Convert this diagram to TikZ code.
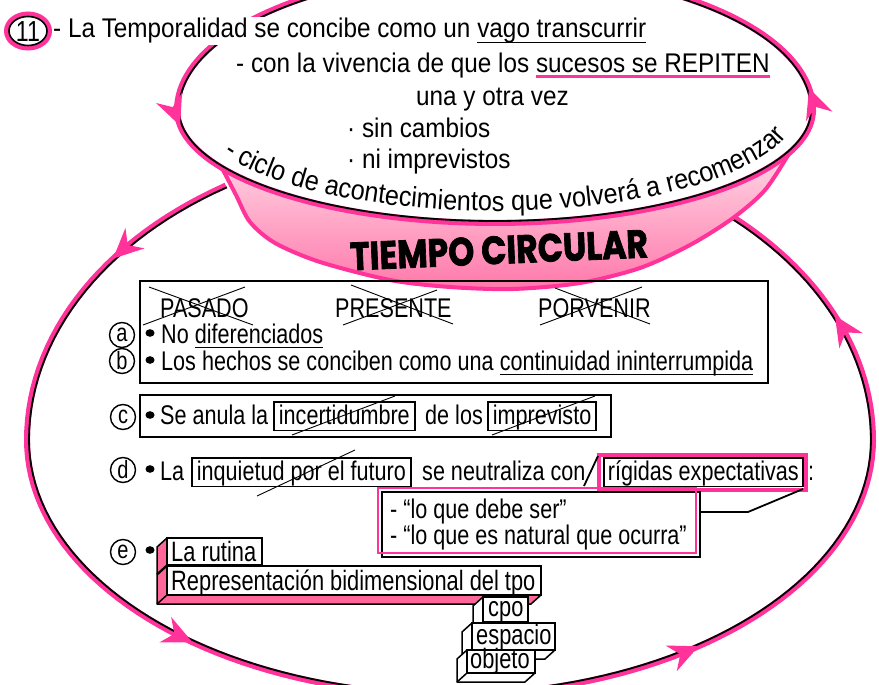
\documentclass[tikz,border=0pt]{standalone}
\usepackage{fontspec}
\usepackage{graphicx}
\setmainfont{Liberation Sans}
\newfontfamily\topfont{Liberation Sans}[FakeStretch=0.9]
\newfontfamily\boxfont{Liberation Sans}[FakeStretch=0.8]
\newfontfamily\tallfont{Liberation Sans}[FakeStretch=0.78]
\newfontfamily\heavyfont{Poppins}[BoldFeatures={FakeBold=2}]
\usetikzlibrary{decorations.text}
\definecolor{hp}{RGB}{255,51,153}
\definecolor{facep}{RGB}{255,102,153}
\definecolor{ribtop}{RGB}{255,215,230}
\definecolor{ribbot}{RGB}{255,120,170}

\newcommand\ulk[1]{\setbox0\hbox{#1}\rlap{\rule[-5.2pt]{\wd0}{1.4pt}}\box0}
\newcommand\ulp[1]{\setbox0\hbox{#1}\rlap{\textcolor{hp}{\rule[-4.8pt]{\wd0}{3pt}}}\box0}
\newcommand\arrhd[3]{\fill[hp, shift={(#1,#2)}, rotate=#3] (0,0) -- (-30,14) -- (-20,0) -- (-30,-14) -- cycle;}
\newcommand\ellarr[5]{%
  \pgfmathsetmacro\eax{#1+#3*cos(#5)}%
  \pgfmathsetmacro\eay{#2-#4*sin(#5)}%
  \pgfmathsetmacro\ean{atan2(#4*cos(#5),-#3*sin(#5))}%
  \arrhd{\eax}{\eay}{\ean}}
\newcommand\tdbox[5]{%
  \filldraw[fill=#5, draw=black, line width=1.5pt, line join=round] (#1,#2) -- ++(-10,9) -- ({#1-10},{#4+9}) -- ({#3-10},{#4+9}) -- (#3,#4) -- (#1,#4) -- cycle;
  \draw[line width=1.5pt] (#1,#4) -- ++(-10,9);
  \filldraw[fill=white, draw=black, line width=1.8pt] (#1,#2) rectangle (#3,#4);}

\begin{document}
\begin{tikzpicture}[x=1pt,y=-1pt,
  ttxt/.style={font=\topfont\fontsize{27}{30}\selectfont, inner sep=0pt, anchor=base west},
  btxt/.style={font=\boxfont\fontsize{27}{30}\selectfont, inner sep=0pt, anchor=base west},
  etxt/.style={font=\tallfont\fontsize{28}{30}\selectfont, inner sep=0pt, anchor=base west},
  wbox/.style={btxt, draw, line width=1.8pt, fill=white, inner xsep=5pt, inner ysep=2.5pt, text height=19.5pt, text depth=4pt},
  bx/.style={draw, line width=1.8pt},
  strike/.style={line width=0.9pt},
  circ/.style={circle, draw, line width=1.4pt, minimum size=25pt, inner sep=0pt, font=\boxfont\fontsize{25}{25}\selectfont},
  pinkline/.style={hp, line width=6pt},
  blackline/.style={black, line width=1.8pt}]
\useasboundingbox (0,0) rectangle (879,685);
\clip (0,0) rectangle (879,685);

% lower loop
\draw[pinkline] plot[domain=122:180,samples=30] ({450+423*cos(\x)},{440-300*sin(\x)}) -- plot[domain=180:360,samples=90] ({450+423*cos(\x)},{440-255*sin(\x)}) -- plot[domain=360:409,samples=30] ({450+423*cos(\x)},{440-300*sin(\x)});
\draw[blackline] plot[domain=122:180,samples=30] ({450+421*cos(\x)},{440-298*sin(\x)}) -- plot[domain=180:360,samples=90] ({450+421*cos(\x)},{440-253*sin(\x)}) -- plot[domain=360:409,samples=30] ({450+421*cos(\x)},{440-298*sin(\x)});

% ribbon
\path[top color=ribtop, bottom color=ribbot, draw=hp, line width=4pt, line join=round] plot[domain=211:338,samples=60] ({495+318*cos(\x)},{110-113*sin(\x)}) -- plot[smooth] coordinates {(790,152) (765,190) (733,218) (690,245) (640,268) (580,283) (513,289) (450,287) (390,280) (320,262) (275,243) (250,222) (236,195) (222,168)} -- cycle;

% top ellipse
\draw[pinkline] plot[domain=0:180,samples=90] ({495+318*cos(\x)},{110-140*sin(\x)}) -- plot[domain=180:360,samples=90] ({495+318*cos(\x)},{110-113*sin(\x)}) -- cycle;
\draw[blackline] plot[domain=0:180,samples=90] ({495+316*cos(\x)},{110-138*sin(\x)}) -- plot[domain=180:360,samples=90] ({495+316*cos(\x)},{110-111*sin(\x)}) -- cycle;

% arrowheads
\ellarr{450}{440}{423}{300}{142.8}
\ellarr{450}{440}{423}{255}{232.5}
\ellarr{450}{440}{423}{255}{306}
\ellarr{450}{440}{423}{300}{384.5}
\ellarr{495}{110}{318}{113}{188}
\ellarr{495}{110}{318}{140}{9}

% ribbon label
\node[rotate=2.5, inner sep=0pt] (tcirc) at (499,250) {\resizebox{298pt}{28pt}{\heavyfont\bfseries TIEMPO CIRCULAR}};

% curved text
\path[decorate, decoration={text along path, text align=left, text={|\topfont\fontsize{28}{28}\selectfont|- ciclo de acontecimientos que volverá a recomenzar}}] plot[domain=206:356,samples=90] ({495+302*cos(\x)},{110-101*sin(\x)});

% top text
\node[ttxt, fill=white, inner sep=1pt] (l1) at (52,38) {- La Temporalidad se concibe como un \ulk{vago transcurrir}};
\node[ttxt] (l2) at (236,73) {- con la vivencia de que los \ulp{sucesos se REPITEN}};
\node[ttxt] (l3) at (416,106) {una y otra vez};
\node[ttxt] (l4) at (347,137) {· sin cambios};
\node[ttxt] (l5) at (347,168) {· ni imprevistos};

% 11
\draw[hp, line width=5pt] (28,31) ellipse [x radius=21.5, y radius=17];
\draw[line width=1.6pt] (28,31) ellipse [x radius=19, y radius=14.5];
\node[font=\boxfont\fontsize{29}{29}\selectfont, inner sep=0pt] (n11) at (28,32) {11};

% box 1
\draw[bx] (140,281) rectangle (768,383);
\node[btxt] (pas) at (160,317) {PASADO};
\node[btxt] (pre) at (335,317) {PRESENTE};
\node[btxt] (por) at (538,317) {PORVENIR};
\draw[strike] (149,287) -- (253,325);
\draw[strike] (143,325) -- (245,287);
\draw[strike] (351,285) -- (453,324);
\draw[strike] (343,325) -- (437,290);
\draw[strike] (555,288) -- (650,324);
\draw[strike] (540,325) -- (642,287);
\node[circ] (ca) at (122,335) {a};
\node[circ] (cb) at (122,361) {b};
\fill (150,333) ellipse [x radius=4.5, y radius=3.8];
\fill (150,360) ellipse [x radius=4.5, y radius=3.8];
\node[btxt] (ta) at (161,343) {No \ulk{diferenciados}};
\node[btxt] (tb) at (161,370) {Los hechos se conciben como una \ulk{continuidad ininterrumpida}};

% box 2
\draw[bx] (140,395) rectangle (611,437);
\node[circ] (cc) at (123,417) {c};
\fill (150,415) ellipse [x radius=4.5, y radius=3.8];
\node[btxt] (tc1) at (160,424) {Se anula la};
\node[wbox] (inc) at (273,424) {incertidumbre};
\node[btxt] (tc2) at (425,424) {de los};
\node[wbox] (imp) at (487,424) {imprevisto};
\draw[strike] (292,435) -- (395,396);
\draw[strike] (492,435) -- (595,396);

% d row
\node[circ] (cd) at (123,470) {d};
\fill (150,469) ellipse [x radius=4.5, y radius=3.8];
\node[btxt] (td1) at (160,480) {La};
\node[wbox] (inq) at (191,480) {inquietud por el futuro};
\draw[strike] (257,496) -- (355,450);
\node[btxt] (td2) at (422,480) {se neutraliza con};
\node[wbox, inner xsep=4pt] (rig) at (603,480) {rígidas expectativas};
\draw[hp, line width=4.5pt] (599,455) rectangle (806,490);
\node[btxt] (colon) at (808,480) {:};
\draw[line width=1.8pt] (584,486) -- (598,456);
\draw[line width=1.8pt] (803,489) -- (748,512) -- (700,512);

% quotes box
\draw[line width=2.2pt] (382,492) rectangle (700,557);
\draw[hp, line width=2.2pt] (378,488) rectangle (696,553);
\node[btxt] (q1) at (390,518) {- “lo que debe ser”};
\node[btxt] (q2) at (390,544) {- “lo que es natural que ocurra”};

% e row
\node[circ] (ce) at (123,552) {e};
\fill (150,550) ellipse [x radius=4.5, y radius=3.8];
\tdbox{167}{538}{262}{565}{facep}
\node[etxt] (er1) at (171,561) {La rutina};
\tdbox{167}{566}{541}{595}{facep}
\node[etxt] (er2) at (171,590) {Representación bidimensional del tpo};
\tdbox{483}{597}{528}{622}{white}
\node[etxt] (er3) at (488,616) {cpo};
\tdbox{472}{623}{555}{650}{white}
\node[etxt] (er4) at (476,644) {espacio};
\tdbox{467}{650}{535}{673}{white}
\node[etxt] (er5) at (470,668) {objeto};
\end{tikzpicture}
\end{document}
